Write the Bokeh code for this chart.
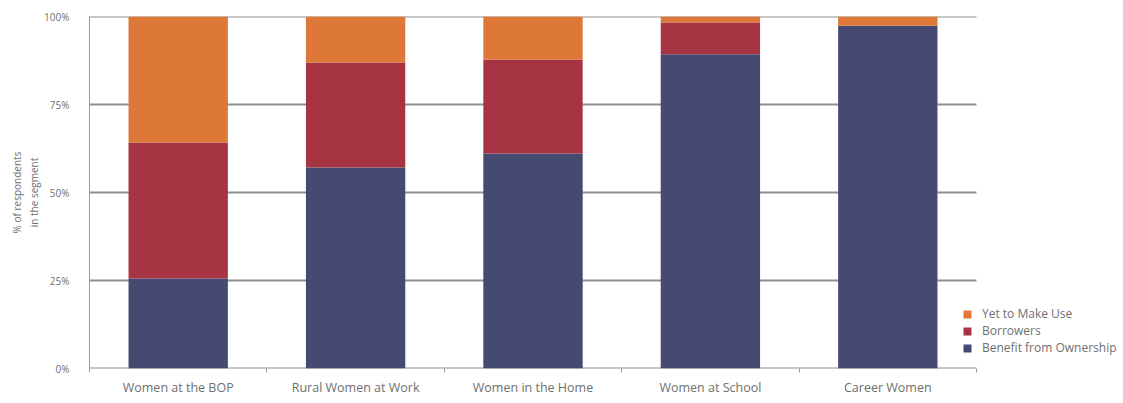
from bokeh.plotting import figure
from bokeh.models import (ColumnDataSource, FixedTicker, Range1d, Legend, LegendItem,
                          PrintfTickFormatter)
from bokeh.embed import file_html
from bokeh.resources import INLINE

segments = ["Women at the BOP", "Rural Women at Work", "Women in the Home",
            "Women at School", "Career Women"]
benefit = [25.6, 57.1, 61.1, 89.3, 97.4]
borrowers = [38.6, 29.8, 26.7, 9.0, 0.0]
yet_to_use = [35.8, 13.1, 12.2, 1.7, 2.6]
series = ["Benefit from Ownership", "Borrowers", "Yet to Make Use"]
colors = ["#454a72", "#a63442", "#dd7838"]
y_ticks = [0, 25, 50, 75, 100]

n = len(segments)
xs = [i + 0.5 for i in range(n)]
src = ColumnDataSource(dict(x=xs, benefit=benefit, borrowers=borrowers, yet=yet_to_use))
grid_src = ColumnDataSource(dict(y=y_ticks, x0=[0] * len(y_ticks), x1=[n] * len(y_ticks)))

FONT = "Open Sans"
GRAY = "#6f6f6f"

# plotting area (bars) is 887 px wide; the frame continues to the right for the legend
BAR_AREA_W = 887
FRAME_W = 1030
p = figure(frame_width=FRAME_W, frame_height=352, output_backend="svg", toolbar_location=None,
           x_range=Range1d(0, n * FRAME_W / BAR_AREA_W), y_range=Range1d(0, 100),
           min_border_left=89, min_border_right=0, min_border_top=16, min_border_bottom=0)
p.outline_line_color = None
p.background_fill_color = "white"

# horizontal gridlines spanning the category area only
p.segment(x0="x0", x1="x1", y0="y", y1="y", source=grid_src,
          line_color="#8f8f8f", line_width=2)

rs = p.vbar_stack(["benefit", "borrowers", "yet"], x="x", width=0.56, source=src,
                  color=colors, line_color=None)

# x axis: labels at centres, small ticks at category boundaries
xa = p.xaxis[0]
xa.ticker = FixedTicker(ticks=xs, minor_ticks=list(range(n + 1)))
xa.major_label_overrides = {x: s for x, s in zip(xs, segments)}
xa.major_tick_line_color = None
xa.minor_tick_line_color = "#9a9a9a"
xa.minor_tick_in = 0
xa.minor_tick_out = 4
xa.axis_line_color = None
xa.major_label_standoff = 4
xa.major_label_text_font = FONT
xa.major_label_text_font_size = "12.5px"
xa.major_label_text_color = GRAY

ya = p.yaxis[0]
ya.ticker = FixedTicker(ticks=y_ticks)
ya.formatter = PrintfTickFormatter(format="%d%%")
ya.major_tick_line_color = None
ya.minor_tick_line_color = None
ya.axis_line_color = "#9a9a9a"
ya.axis_line_width = 1
ya.major_label_standoff = 14
ya.major_label_text_font = FONT
ya.major_label_text_font_size = "10px"
ya.major_label_text_color = GRAY
ya.axis_label = "% of respondents\nin the segment"
ya.axis_label_text_font = FONT
ya.axis_label_text_font_size = "10px"
ya.axis_label_text_font_style = "normal"
ya.axis_label_text_color = GRAY
ya.axis_label_standoff = 0

p.xgrid.grid_line_color = None
p.ygrid.grid_line_color = None

items = [LegendItem(label=series[i], renderers=[rs[i]]) for i in (2, 1, 0)]
legend = Legend(items=items, location=(873, 12), orientation="vertical",
                padding=0, margin=0, spacing=0, glyph_width=10, glyph_height=10,
                label_height=13, label_standoff=10,
                label_text_font=FONT, label_text_font_size="12px", label_text_color=GRAY,
                border_line_color=None, background_fill_alpha=0)
p.add_layout(legend, "center")

open("out.html", "w").write(file_html(p, INLINE))
